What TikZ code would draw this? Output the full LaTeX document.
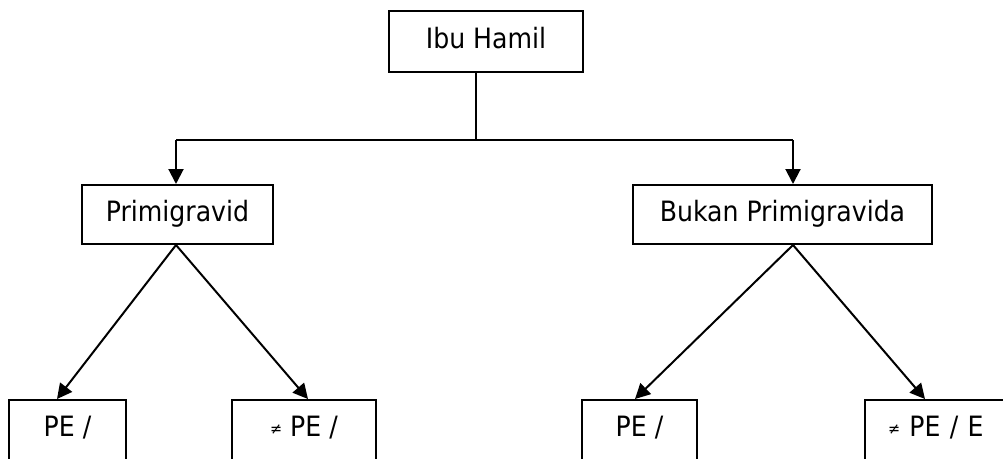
\documentclass[tikz,border=0pt]{standalone}
\usepackage{fontspec}
\setmainfont{DejaVu Sans Condensed}
\usetikzlibrary{arrows.meta}
\newcommand{\smallneq}{\raisebox{2pt}{\fontsize{16}{18}\selectfont ≠}}
\begin{document}
\begin{tikzpicture}[x=1pt,y=-1pt,
  box/.style={draw,line width=2pt,inner sep=0pt,font=\fontsize{28}{32}\selectfont},
  conn/.style={line width=2pt},
  arr/.style={conn,-{Triangle[length=15pt,width=15pt]}}]
\useasboundingbox (0,0) rectangle (1003,458);
\clip (0,0) rectangle (1003,458);
% top
\node[box,minimum width=194pt,text height=37pt,text depth=24pt,anchor=north] (ibu) at (486,10) {Ibu Hamil};
\node[box,minimum width=191pt,text height=36pt,text depth=23pt,anchor=north] (prim) at (177.5,184) {Primigravid};
\node[box,minimum width=299pt,text height=36pt,text depth=23pt,anchor=north] (bukan) at (782.5,184) {Bukan Primigravida};
% bottom
\node[box,minimum width=117pt,text height=36pt,text depth=60pt,anchor=north] (a) at (67.5,399) {PE /};
\node[box,minimum width=144pt,text height=36pt,text depth=60pt,anchor=north] (b) at (304,399) {\smallneq\ PE /};
\node[box,minimum width=115pt,text height=36pt,text depth=60pt,anchor=north] (c) at (639.5,399) {PE /};
\node[box,minimum width=160pt,text height=36pt,text depth=60pt,anchor=north west,text width=150pt,align=left] (d) at (864,399) {\hspace*{18pt}\smallneq\ PE / E};
% connectors
\coordinate (j) at (476,140);
\coordinate (jl) at (176,140);
\coordinate (jr) at (793,140);
\draw[conn] (ibu.south -| j) -- (j);
\draw[conn] (jl) -- (jr);
\draw[arr] (jl) -- (prim.north -| jl);
\draw[arr] (jr) -- (bukan.north -| jr);
\coordinate (ps) at (176,243);
\coordinate (bs) at (793,243);
\draw[arr] (prim.south -| ps) -- (a.north -| 57,0);
\draw[arr] (prim.south -| ps) -- (b.north -| 308,0);
\draw[arr] (bukan.south -| bs) -- (c.north -| 635,0);
\draw[arr] (bukan.south -| bs) -- (d.north -| 925,0);
\end{tikzpicture}
\end{document}
